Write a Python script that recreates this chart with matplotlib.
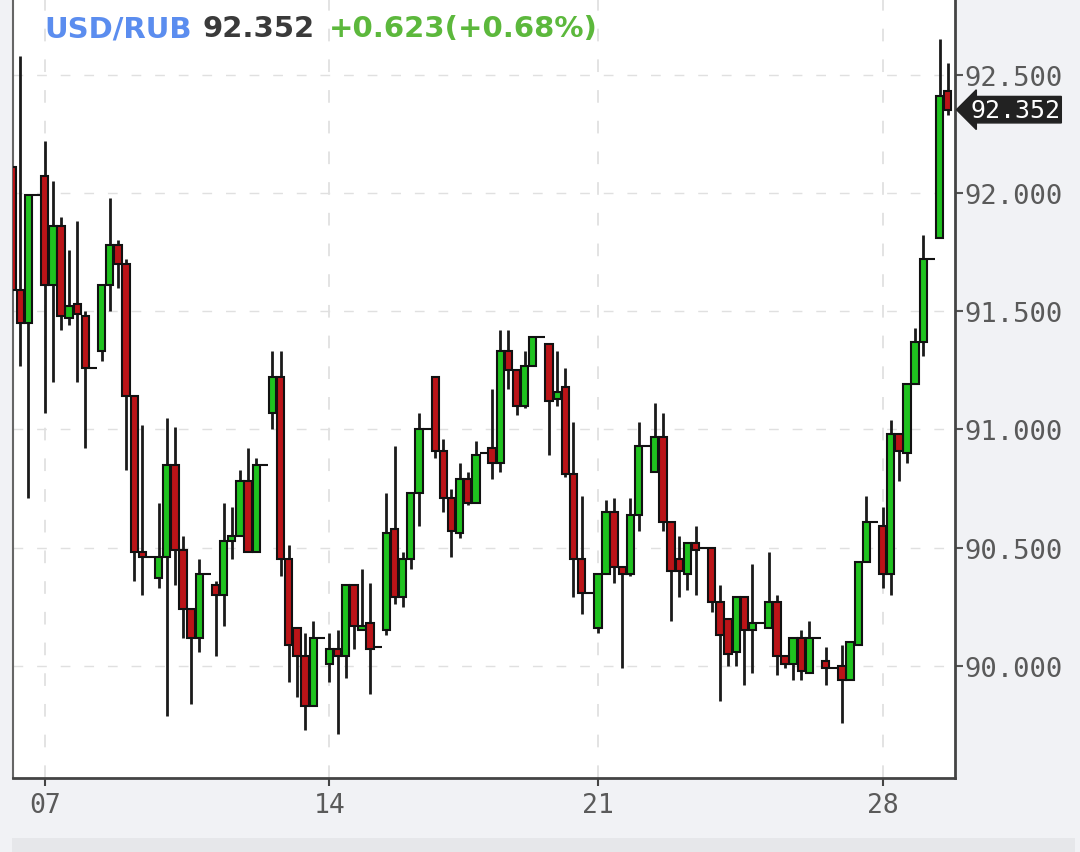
import matplotlib
matplotlib.use("Agg")
import matplotlib.pyplot as plt
import matplotlib.transforms as mtransforms
from matplotlib.patches import Rectangle
import numpy as np

# 4h candles, USD/RUB
opens = [
    92.11, 91.59, 91.45, 91.99, 92.07, 91.61, 91.86, 91.47, 91.53, 91.48,
    91.26, 91.33, 91.61, 91.78, 91.70, 91.14, 90.48, 90.46, 90.37, 90.46,
    90.85, 90.49, 90.24, 90.12, 90.39, 90.34, 90.30, 90.53, 90.55, 90.78,
    90.48, 90.85, 91.07, 91.22, 90.45, 90.16, 90.04, 89.83, 90.12, 90.01,
    90.07, 90.04, 90.34, 90.15, 90.18, 90.08, 90.15, 90.58, 90.29, 90.45,
    90.73, 91.00, 91.22, 90.91, 90.71, 90.56, 90.79, 90.69, 90.90, 90.92,
    90.86, 91.33, 91.25, 91.10, 91.27, 91.39, 91.36, 91.13, 91.18, 90.81,
    90.45, 90.31, 90.16, 90.39, 90.65, 90.42, 90.39, 90.64, 90.93, 90.82,
    90.97, 90.61, 90.45, 90.39, 90.52, 90.50, 90.50, 90.27, 90.20, 90.06,
    90.29, 90.15, 90.18, 90.16, 90.27, 90.04, 90.01, 90.12, 89.97, 90.12,
    90.02, 89.99, 90.00, 89.94, 90.09, 90.44, 90.61, 90.59, 90.39, 90.98,
    90.90, 91.19, 91.37, 91.72, 91.81, 92.43,
]
highs = [
    92.15, 92.58, 91.99, 91.99, 92.22, 92.05, 91.90, 91.76, 91.88, 91.50,
    91.26, 91.61, 91.98, 91.80, 91.72, 91.14, 91.02, 90.46, 90.69, 91.05,
    91.01, 90.55, 90.24, 90.45, 90.39, 90.36, 90.69, 90.67, 90.83, 90.92,
    90.88, 90.85, 91.33, 91.33, 90.51, 90.16, 90.14, 90.19, 90.12, 90.14,
    90.15, 90.34, 90.34, 90.41, 90.35, 90.08, 90.73, 90.93, 90.48, 90.73,
    91.07, 91.00, 91.22, 90.96, 90.75, 90.86, 90.82, 90.95, 90.90, 91.17,
    91.42, 91.42, 91.25, 91.33, 91.39, 91.39, 91.36, 91.33, 91.26, 91.03,
    90.72, 90.31, 90.39, 90.70, 90.71, 90.42, 90.71, 91.03, 90.93, 91.11,
    91.07, 90.61, 90.55, 90.52, 90.59, 90.50, 90.50, 90.34, 90.20, 90.29,
    90.29, 90.43, 90.18, 90.48, 90.30, 90.04, 90.12, 90.15, 90.19, 90.12,
    90.08, 89.99, 90.09, 90.10, 90.44, 90.72, 90.61, 90.67, 91.04, 90.98,
    91.19, 91.43, 91.82, 91.72, 92.65, 92.55,
]
lows = [
    91.52, 91.27, 90.71, 91.99, 91.07, 91.20, 91.42, 91.44, 91.20, 90.92,
    91.26, 91.29, 91.50, 91.60, 90.83, 90.36, 90.30, 90.46, 90.33, 89.79,
    90.34, 90.12, 89.84, 90.06, 90.39, 90.04, 90.17, 90.45, 90.55, 90.48,
    90.48, 90.85, 91.00, 90.38, 89.93, 89.87, 89.73, 89.83, 90.12, 89.93,
    89.71, 89.95, 90.07, 90.15, 89.88, 90.08, 90.13, 90.26, 90.25, 90.41,
    90.59, 91.00, 90.88, 90.65, 90.46, 90.54, 90.68, 90.69, 90.90, 90.79,
    90.82, 91.17, 91.06, 91.09, 91.27, 91.39, 90.89, 91.10, 90.80, 90.29,
    90.22, 90.31, 90.14, 90.39, 90.35, 89.99, 90.38, 90.57, 90.93, 90.82,
    90.57, 90.19, 90.29, 90.32, 90.30, 90.50, 90.23, 89.85, 90.00, 90.00,
    89.92, 89.97, 90.18, 90.16, 89.96, 89.99, 89.94, 89.94, 89.97, 90.12,
    89.92, 89.99, 89.76, 89.94, 90.09, 90.44, 90.61, 90.33, 90.30, 90.78,
    90.86, 91.19, 91.31, 91.72, 91.81, 92.33,
]
closes = [
    91.59, 91.45, 91.99, 91.99, 91.61, 91.86, 91.48, 91.52, 91.49, 91.26,
    91.26, 91.61, 91.78, 91.70, 91.14, 90.48, 90.46, 90.46, 90.46, 90.85,
    90.49, 90.24, 90.12, 90.39, 90.39, 90.30, 90.53, 90.55, 90.78, 90.48,
    90.85, 90.85, 91.22, 90.45, 90.09, 90.04, 89.83, 90.12, 90.12, 90.07,
    90.04, 90.34, 90.17, 90.17, 90.07, 90.08, 90.56, 90.29, 90.45, 90.73,
    91.00, 91.00, 90.91, 90.71, 90.57, 90.79, 90.69, 90.89, 90.90, 90.86,
    91.33, 91.25, 91.10, 91.27, 91.39, 91.39, 91.12, 91.16, 90.81, 90.45,
    90.31, 90.31, 90.39, 90.65, 90.42, 90.39, 90.64, 90.93, 90.93, 90.97,
    90.61, 90.40, 90.40, 90.52, 90.49, 90.50, 90.27, 90.13, 90.05, 90.29,
    90.15, 90.18, 90.18, 90.27, 90.04, 90.01, 90.12, 89.98, 90.12, 90.12,
    89.99, 89.99, 89.94, 90.10, 90.44, 90.61, 90.61, 90.39, 90.98, 90.91,
    91.19, 91.37, 91.72, 91.72, 92.41, 92.352,
]

week_pos = [4, 39, 72, 107]
week_labels = ["07", "14", "21", "28"]
price_ticks = [90.0, 90.5, 91.0, 91.5, 92.0, 92.5]

symbol = "USD/RUB"
last_price = "92.352"
change_text = "+0.623(+0.68%)"

GREEN = "#1fc21f"
RED = "#bb1418"
PANEL = "#f1f2f5"

fig = plt.figure(figsize=(10.8, 8.53), dpi=100)
fig.patch.set_facecolor(PANEL)
ax = fig.add_axes([13 / 1080, 1 - 779 / 853, (955 - 13) / 1080, 779 / 853])
ax.set_facecolor("white")

o = np.array(opens)
h = np.array(highs)
l = np.array(lows)
c = np.array(closes)
x = np.arange(len(o))
up = c >= o

# grid
for p in price_ticks:
    ax.axhline(p, color="#e0e0e0", lw=1.0, ls=(0, (7, 10)), zorder=0)
for p in week_pos:
    ax.axvline(p, color="#e0e0e0", lw=1.3, ls=(0, (7, 10)), zorder=0)

# wicks and bodies
ax.vlines(x, l, h, color="#1a1a1a", lw=2.0, zorder=2)
ax.bar(x[up], (c - o)[up], bottom=o[up], width=0.9, color=GREEN,
       edgecolor="#111111", linewidth=1.5, zorder=3)
ax.bar(x[~up], (o - c)[~up], bottom=c[~up], width=0.9, color=RED,
       edgecolor="#111111", linewidth=1.5, zorder=3)

ax.set_xlim(0.1, 115.9)
ax.set_ylim(89.526, 92.82)

ax.yaxis.tick_right()
ax.set_yticks(price_ticks)
ax.set_yticklabels([f"{p:.3f}" for p in price_ticks])
ax.set_xticks(week_pos)
ax.set_xticklabels(week_labels)
ax.tick_params(axis="y", direction="out", length=6, width=1.5, color="#555555",
               labelcolor="#5a5a5a", labelsize=19.5, pad=1)
ax.tick_params(axis="x", direction="out", length=6, width=1.5, color="#444444",
               labelcolor="#5a5a5a", labelsize=19, pad=4)
for lab in ax.get_xticklabels() + ax.get_yticklabels():
    lab.set_fontfamily("DejaVu Sans Mono")

ax.spines["top"].set_visible(False)
ax.spines["left"].set_color("#666666")
ax.spines["left"].set_linewidth(1.5)
ax.spines["bottom"].set_color("#444444")
ax.spines["bottom"].set_linewidth(2)
ax.spines["right"].set_color("#444444")
ax.spines["right"].set_linewidth(2)

# last price marker
trans = mtransforms.blended_transform_factory(ax.transAxes, ax.transData)
ax.text(1.016, c[-1], last_price, transform=trans, ha="left", va="center",
        color="white", fontsize=18, family="DejaVu Sans Mono",
        bbox=dict(boxstyle="larrow,pad=0.05", fc="#222222", ec="#222222"),
        clip_on=False, zorder=5)

# header
ty = 1 - 29 / 853
fig.text(44 / 1080, ty, symbol, color="#5b8def", fontsize=21, weight="bold",
         va="center", ha="left")
fig.text(203 / 1080, ty, last_price, color="#3a3a3a", fontsize=21,
         weight="bold", va="center", ha="left")
fig.text(329 / 1080, ty, change_text, color="#5cb83c", fontsize=21,
         weight="bold", va="center", ha="left")

# bottom strip
fig.patches.append(Rectangle((12 / 1080, 0), (1075 - 12) / 1080, 14 / 853,
                             transform=fig.transFigure, facecolor="#e6e7ea",
                             edgecolor="none", zorder=0))

fig.savefig("out.png", dpi=100, facecolor=fig.get_facecolor())
